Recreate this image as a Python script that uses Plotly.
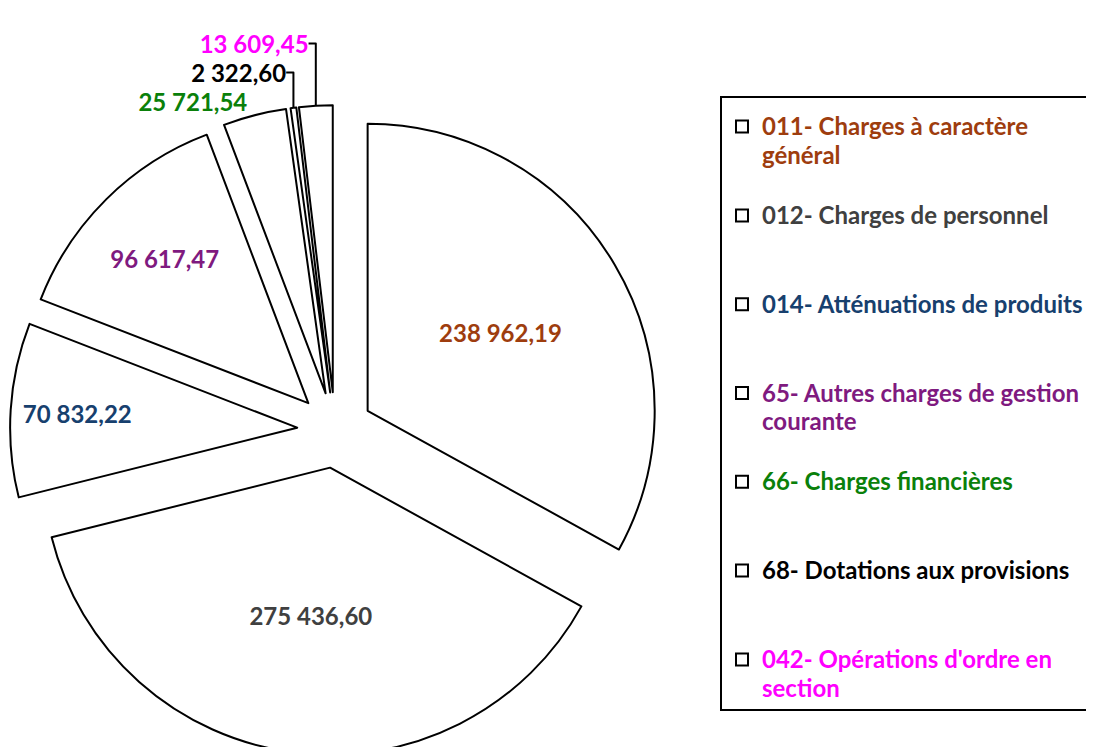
import plotly.graph_objects as go

categories = [
    "011- Charges à caractère général",
    "012- Charges de personnel",
    "014- Atténuations de produits",
    "65- Autres charges de gestion courante",
    "66- Charges financières",
    "68- Dotations aux provisions",
    "042- Opérations d'ordre en section",
]
legend_text = [
    ["011- Charges à caractère", "général"],
    ["012- Charges de personnel"],
    ["014- Atténuations de produits"],
    ["65- Autres charges de gestion", "courante"],
    ["66- Charges financières"],
    ["68- Dotations aux provisions"],
    ["042- Opérations d'ordre en", "section"],
]
values = [238962.19, 275436.60, 70832.22, 96617.47, 25721.54, 2322.60, 13609.45]
colors = ["#9E3D0E", "#404040", "#17406E", "#7F1A7F", "#0A800A", "#000000", "#FF00FF"]
text_positions = ["inside", "inside", "inside", "inside", "outside", "outside", "outside"]

FONT = "Lato"

def legend_label(lines, color, last):
    pad = [] if last else ["&nbsp;"] * (3 - len(lines))
    body = "<br>".join(lines + pad)
    return f'<span style="color:{color};font-size:24px">{body}</span>'

labels = [legend_label(l, c, i == len(legend_text) - 1) for i, (l, c) in enumerate(zip(legend_text, colors))]

fig = go.Figure(
    go.Pie(
        labels=labels,
        values=values,
        sort=False,
        direction="clockwise",
        rotation=0,
        pull=[0.132] * len(values),
        marker=dict(colors=["white"] * len(values), line=dict(color="black", width=2)),
        texttemplate="%{value:,.2f}",
        textposition=text_positions,
        insidetextorientation="horizontal",
        textfont=dict(family=FONT, size=24, color=colors, weight="bold"),
        outsidetextfont=dict(family=FONT, size=24, color=colors, weight="bold"),
        insidetextfont=dict(family=FONT, size=24, color=colors, weight="bold"),
        domain=dict(x=[2 / 1094, 652 / 1094], y=[0, 0.87]),
        hoverinfo="skip",
    )
)

fig.update_layout(
    width=1094,
    height=747,
    margin=dict(l=0, r=0, t=0, b=0, autoexpand=False),
    paper_bgcolor="white",
    plot_bgcolor="white",
    separators=", ",
    showlegend=True,
    legend=dict(
        x=712 / 1094,
        y=1 - 88 / 747,
        xanchor="left",
        yanchor="top",
        valign="top",
        bordercolor="black",
        borderwidth=2,
        bgcolor="white",
        font=dict(family=FONT, size=22, color="black", weight="bold"),
        title=dict(text="&nbsp;", font=dict(size=6)),
    ),
)

fig.write_html("out.html")
